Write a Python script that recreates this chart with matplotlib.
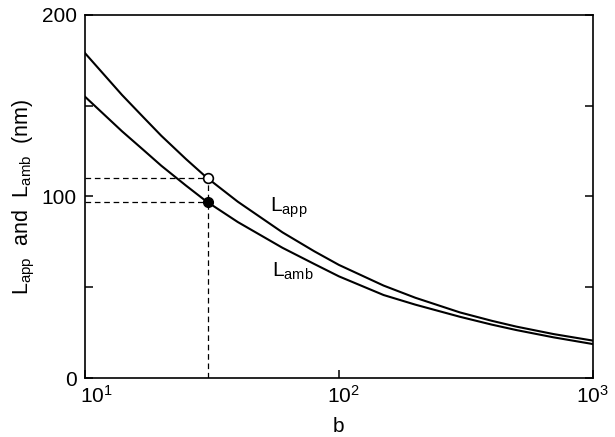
import matplotlib
matplotlib.use("Agg")
import matplotlib.pyplot as plt
from matplotlib.ticker import FixedLocator, NullLocator
from matplotlib.transforms import ScaledTranslation

plt.rcParams['font.family'] = ['Liberation Sans', 'DejaVu Sans']
plt.rcParams['mathtext.default'] = 'regular'

# curves
b = [10, 14, 17, 20, 25, 30, 40, 60, 80, 100, 150, 200, 300, 400, 500, 700, 1000]
L_app = [179, 155.9, 143.6, 133.4, 120.6, 110.7, 97.1, 80.2, 69.8, 62.3, 50.9,
         44.2, 36.1, 31.5, 28.3, 24.2, 20.6]
L_amb = [155, 135.9, 125.6, 116.9, 106.0, 97.4, 85.9, 71.7, 62.8, 56.0, 45.7,
         40.4, 33.7, 29.4, 26.4, 22.4, 18.7]

# marked point
b_mark = 30.5
app_mark = 110
amb_mark = 97

fig = plt.figure(figsize=(6.15, 4.37), dpi=100)
ax = fig.add_axes([0.138, 0.135, 0.826, 0.831])

ax.plot(b, L_app, color='black', lw=1.5)
ax.plot(b, L_amb, color='black', lw=1.5)

dash = (0, (4.5, 3))
ax.plot([10, b_mark], [app_mark, app_mark], color='black', lw=0.9, linestyle=dash)
ax.plot([10, b_mark], [amb_mark, amb_mark], color='black', lw=0.9, linestyle=dash)
ax.plot([b_mark, b_mark], [0, app_mark], color='black', lw=0.9, linestyle=dash)

ax.plot(b_mark, app_mark, 'o', ms=7, mfc='white', mec='black', mew=1.2, zorder=5)
ax.plot(b_mark, amb_mark, 'o', ms=7, mfc='black', mec='black', zorder=5)

ax.text(53.5, 94, r'$L_{app}$', fontsize=15, va='center', ha='left')
ax.text(54.5, 59, r'$L_{amb}$', fontsize=15, va='center', ha='left')

ax.set_xscale('log')
ax.set_xlim(10, 1000)
ax.set_ylim(0, 200)
ax.xaxis.set_major_locator(FixedLocator([10, 100, 1000]))
ax.xaxis.set_minor_locator(NullLocator())
ax.set_yticks([0, 50, 100, 150, 200])
ax.set_yticklabels(['0', '', '100', '', '200'])

ax.tick_params(axis='both', which='major', direction='in', length=6, width=1.1,
               labelsize=15, right=True, top=False, pad=6)
ax.tick_params(axis='x', pad=5)
for s in ax.spines.values():
    s.set_linewidth(1.2)

# x tick labels sit a bit right of their ticks in the original
fig.canvas.draw()
for lab, dx in zip(ax.get_xticklabels(), [8, 3, 0]):
    lab.set_transform(lab.get_transform()
                      + ScaledTranslation(dx / 72, 0, fig.dpi_scale_trans))

ax.set_xlabel('b', fontsize=15, labelpad=7)
ax.set_ylabel(r'$L_{app}$  and  $L_{amb}$  (nm)', fontsize=15.5, labelpad=3)

fig.savefig('out.png', dpi=100)
